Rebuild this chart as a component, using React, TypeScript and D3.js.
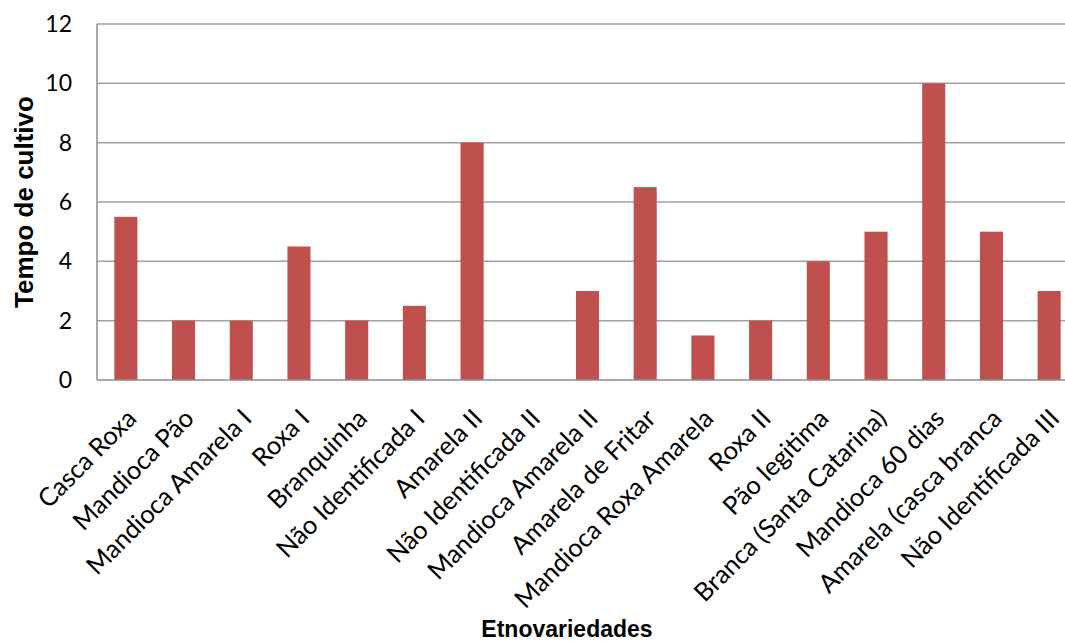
import React from "react";
import * as d3 from "d3";

const categories = [
  "Casca Roxa",
  "Mandioca Pão",
  "Mandioca Amarela I",
  "Roxa I",
  "Branquinha",
  "Não Identificada I",
  "Amarela II",
  "Não Identificada II",
  "Mandioca Amarela II",
  "Amarela de Fritar",
  "Mandioca Roxa Amarela",
  "Roxa II",
  "Pão legitima",
  "Branca (Santa Catarina)",
  "Mandioca 60 dias",
  "Amarela (casca branca",
  "Não Identificada III",
];
const values = [5.5, 2, 2, 4.5, 2, 2.5, 8, 0, 3, 6.5, 1.5, 2, 4, 5, 10, 5, 3];
const yTicks = [0, 2, 4, 6, 8, 10, 12];

const W = 1065;
const H = 641;
const left = 97;
const right = 1078;
const top = 24;
const bottom = 380;

const labelFont = "Lato, 'Open Sans', sans-serif";

const App = () => {
  const x = d3.scaleBand().domain(categories).range([left, right]).paddingInner(0.6).paddingOuter(0.3);
  const y = d3.scaleLinear().domain([0, 12]).range([bottom, top]);

  return (
    <svg
      width={W}
      height={H}
      style={{ position: "absolute", left: 0, top: 0, background: "#fff" }}
    >
      {/* gridlines */}
      {yTicks.slice(1).map((t) => (
        <line key={t} x1={left} x2={right} y1={y(t)} y2={y(t)} stroke="#a0a0a0" strokeWidth={1.5} />
      ))}
      {/* bars */}
      {values.map((v, i) => (
        <rect
          key={i}
          x={x(categories[i])}
          y={y(v)}
          width={x.bandwidth()}
          height={y(0) - y(v)}
          fill="#c0504d"
        />
      ))}
      {/* axes */}
      <line x1={left} x2={left} y1={top} y2={bottom} stroke="#8c8c8c" strokeWidth={1.5} />
      <line x1={left} x2={right} y1={bottom} y2={bottom} stroke="#8c8c8c" strokeWidth={1.5} />
      {yTicks.map((t) => (
        <text
          key={t}
          x={72}
          y={y(t)}
          dy="0.35em"
          textAnchor="end"
          fontFamily={labelFont}
          fontSize={23}
          fill="#000"
        >
          {t}
        </text>
      ))}
      {categories.map((c) => {
        const cx = (x(c) as number) + x.bandwidth() / 2 + 12;
        const cy = 420;
        return (
          <text
            key={c}
            transform={`translate(${cx},${cy}) rotate(-45)`}
            textAnchor="end"
            fontFamily={labelFont}
            fontSize={25.5}
            fill="#000"
          >
            {c}
          </text>
        );
      })}
      <text
        transform={`translate(33,${(top + bottom) / 2}) rotate(-90)`}
        textAnchor="middle"
        fontFamily="Arial, 'Liberation Sans', sans-serif"
        fontWeight="bold"
        fontSize={26}
      >
        Tempo de cultivo
      </text>
      <text
        x={567}
        y={637}
        textAnchor="middle"
        fontFamily="Arial, 'Liberation Sans', sans-serif"
        fontWeight="bold"
        fontSize={23}
      >
        Etnovariedades
      </text>
    </svg>
  );
};

export default App;
